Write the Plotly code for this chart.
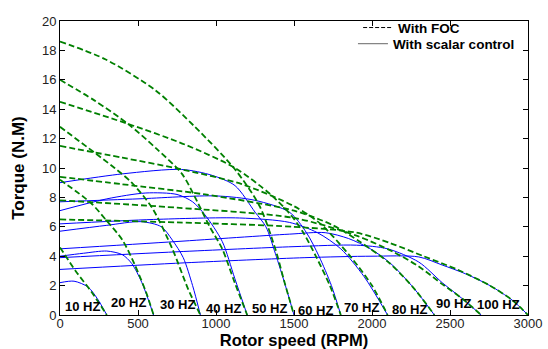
import plotly.graph_objects as go

# ---- data (rotor speed RPM, torque N.M) ----
freq_labels = ["10 HZ", "20 HZ", "30 HZ", "40 HZ", "50 HZ", "60 HZ", "70 HZ", "80 HZ", "90 HZ", "100 HZ"]
label_rpm = [147, 436, 750, 1046, 1346, 1640, 1933, 2238, 2520, 2810]
label_nm = [0.6, 0.87, 0.73, 0.47, 0.47, 0.33, 0.53, 0.4, 0.8, 0.73]

# FOC curves (green dashed)
foc_10 = [(0, 4.6), (100, 3.0), (200, 1.6), (300, 0)]
foc_20 = [(0, 9.2), (200, 7.6), (300, 6.4), (400, 5.1), (480, 3.4), (550, 1.6), (600, 0)]
foc_30 = [(0, 12.8), (350, 10.0), (460, 9.0), (590, 7.3), (720, 4.5), (820, 1.8), (900, 0)]
foc_40 = [(0, 16.0), (220, 14.6), (436, 13.0), (620, 11.3), (782, 9.6), (885, 7.6), (960, 6.0), (1040, 4.5), (1120, 2.2), (1200, 0)]
foc_50 = [(0, 18.6), (290, 17.4), (610, 15.3), (865, 12.8), (1122, 9.9), (1280, 7.4), (1380, 4.5), (1440, 2.2), (1500, 0)]
foc_60 = [(0, 14.5), (436, 13.0), (800, 11.6), (1122, 10.0), (1350, 8.2), (1480, 6.8), (1560, 5.6), (1640, 4.0), (1730, 2.0), (1800, 0)]
foc_70 = [(0, 11.5), (400, 10.7), (782, 9.9), (1165, 8.9), (1500, 7.4), (1670, 6.2), (1860, 4.0), (2000, 2.0), (2100, 0)]
foc_80 = [(0, 9.4), (395, 8.9), (930, 8.2), (1500, 7.1), (1750, 6.1), (1920, 5.0), (2115, 3.5), (2270, 1.8), (2400, 0)]
foc_90 = [(0, 7.8), (750, 7.3), (1500, 6.6), (1900, 5.4), (2135, 4.3), (2300, 3.3), (2450, 2.1), (2580, 1.1), (2700, 0)]
foc_100 = [(0, 6.5), (750, 6.3), (1500, 6.0), (1900, 5.6), (2115, 4.9), (2330, 4.0), (2545, 3.1), (2756, 2.0), (2900, 1.0), (3000, 0)]

# Scalar control curves (blue solid)
sc_10 = [(0, 2.2), (90, 2.3), (180, 1.9), (240, 1.1), (300, 0)]
sc_20 = [(0, 4.0), (150, 4.2), (300, 4.35), (400, 4.1), (460, 3.5), (525, 2.2), (600, 0)]
sc_30 = [(0, 5.7), (300, 6.1), (520, 6.35), (650, 6.0), (720, 5.1), (790, 3.9), (850, 2.0), (900, 0)]
sc_40 = [(0, 7.1), (300, 7.9), (550, 8.3), (750, 8.2), (850, 7.7), (930, 6.8), (1040, 5.0), (1120, 2.5), (1200, 0)]
sc_50 = [(0, 9.0), (400, 9.6), (780, 9.9), (975, 9.5), (1122, 8.8), (1250, 7.0), (1320, 6.0), (1380, 4.2), (1445, 2.0), (1500, 0)]
sc_60 = [(0, 7.7), (500, 7.9), (1000, 8.1), (1250, 7.8), (1470, 7.0), (1580, 5.6), (1660, 4.0), (1740, 2.0), (1800, 0)]
sc_70 = [(0, 6.2), (600, 6.5), (1150, 6.6), (1470, 6.3), (1650, 5.6), (1800, 4.5), (1950, 2.6), (2100, 0)]
sc_80 = [(0, 4.5), (750, 5.0), (1470, 5.5), (1700, 5.6), (1850, 5.2), (1990, 4.5), (2120, 3.5), (2270, 1.8), (2400, 0)]
sc_90 = [(0, 3.9), (750, 4.3), (1500, 4.65), (1900, 4.75), (2100, 4.5), (2300, 3.6), (2450, 2.2), (2580, 1.1), (2700, 0)]
sc_100 = [(0, 3.1), (800, 3.55), (1570, 3.9), (2000, 4.0), (2300, 3.95), (2450, 3.4), (2600, 2.8), (2756, 2.0), (2900, 1.0), (3000, 0)]

foc_curves = [foc_10, foc_20, foc_30, foc_40, foc_50, foc_60, foc_70, foc_80, foc_90, foc_100]
sc_curves = [sc_10, sc_20, sc_30, sc_40, sc_50, sc_60, sc_70, sc_80, sc_90, sc_100]

FONT = "Arial, Liberation Sans, sans-serif"
GREEN = "#008000"
BLUE = "#0000ff"

fig = go.Figure()

for c in sc_curves:
    fig.add_trace(go.Scatter(x=[p[0] for p in c], y=[p[1] for p in c], mode="lines",
                             line=dict(color=BLUE, width=1, shape="spline", smoothing=0.8),
                             showlegend=False, hoverinfo="skip"))
for c in foc_curves:
    fig.add_trace(go.Scatter(x=[p[0] for p in c], y=[p[1] for p in c], mode="lines",
                             line=dict(color=GREEN, width=1.8, dash="6px,3px", shape="spline", smoothing=0.8),
                             showlegend=False, hoverinfo="skip"))

# legend entries (two single-item legends for exact row placement)
fig.add_trace(go.Scatter(x=[None], y=[None], mode="lines", name="With FOC", legend="legend",
                         line=dict(color="black", width=1, dash="4px,2px")))
fig.add_trace(go.Scatter(x=[None], y=[None], mode="lines", name="With scalar control", legend="legend2",
                         line=dict(color="#666666", width=1)))

for t, xv, yv in zip(freq_labels, label_rpm, label_nm):
    fig.add_annotation(x=xv, y=yv, text=t, showarrow=False, xanchor="center", yanchor="middle",
                       font=dict(family=FONT, size=13, color="black", weight="bold"))

axis_common = dict(showline=True, linecolor="black", linewidth=1, mirror="ticks",
                   ticks="inside", ticklen=5, tickcolor="black", showgrid=False, zeroline=False,
                   automargin=False,
                   tickfont=dict(family=FONT, size=13, color="#222222"))

legend_font = dict(family=FONT, size=13.5, color="black", weight="bold")

fig.update_layout(
    width=548, height=349,
    margin=dict(l=60, r=20, t=16, b=34),
    paper_bgcolor="white", plot_bgcolor="white",
    xaxis=dict(range=[0, 3000], tickvals=[0, 500, 1000, 1500, 2000, 2500, 3000],
               ticklabelstandoff=-4,
               title=dict(text="Rotor speed (RPM)", standoff=5,
                          font=dict(family=FONT, size=16.5, color="black", weight="bold")),
               **axis_common),
    yaxis=dict(range=[0, 20], tickvals=list(range(0, 21, 2)),
               title=dict(text="Torque (N.M)", standoff=12,
                          font=dict(family=FONT, size=17, color="black", weight="bold")),
               **axis_common),
    legend=dict(x=0.637, xanchor="left", y=0.977, yanchor="middle", bgcolor="rgba(0,0,0,0)",
                borderwidth=0, font=legend_font, itemwidth=30),
    legend2=dict(x=0.626, xanchor="left", y=0.922, yanchor="middle", bgcolor="rgba(0,0,0,0)",
                 borderwidth=0, font=legend_font, itemwidth=30),
    showlegend=True,
)

fig.write_html("out.html")
